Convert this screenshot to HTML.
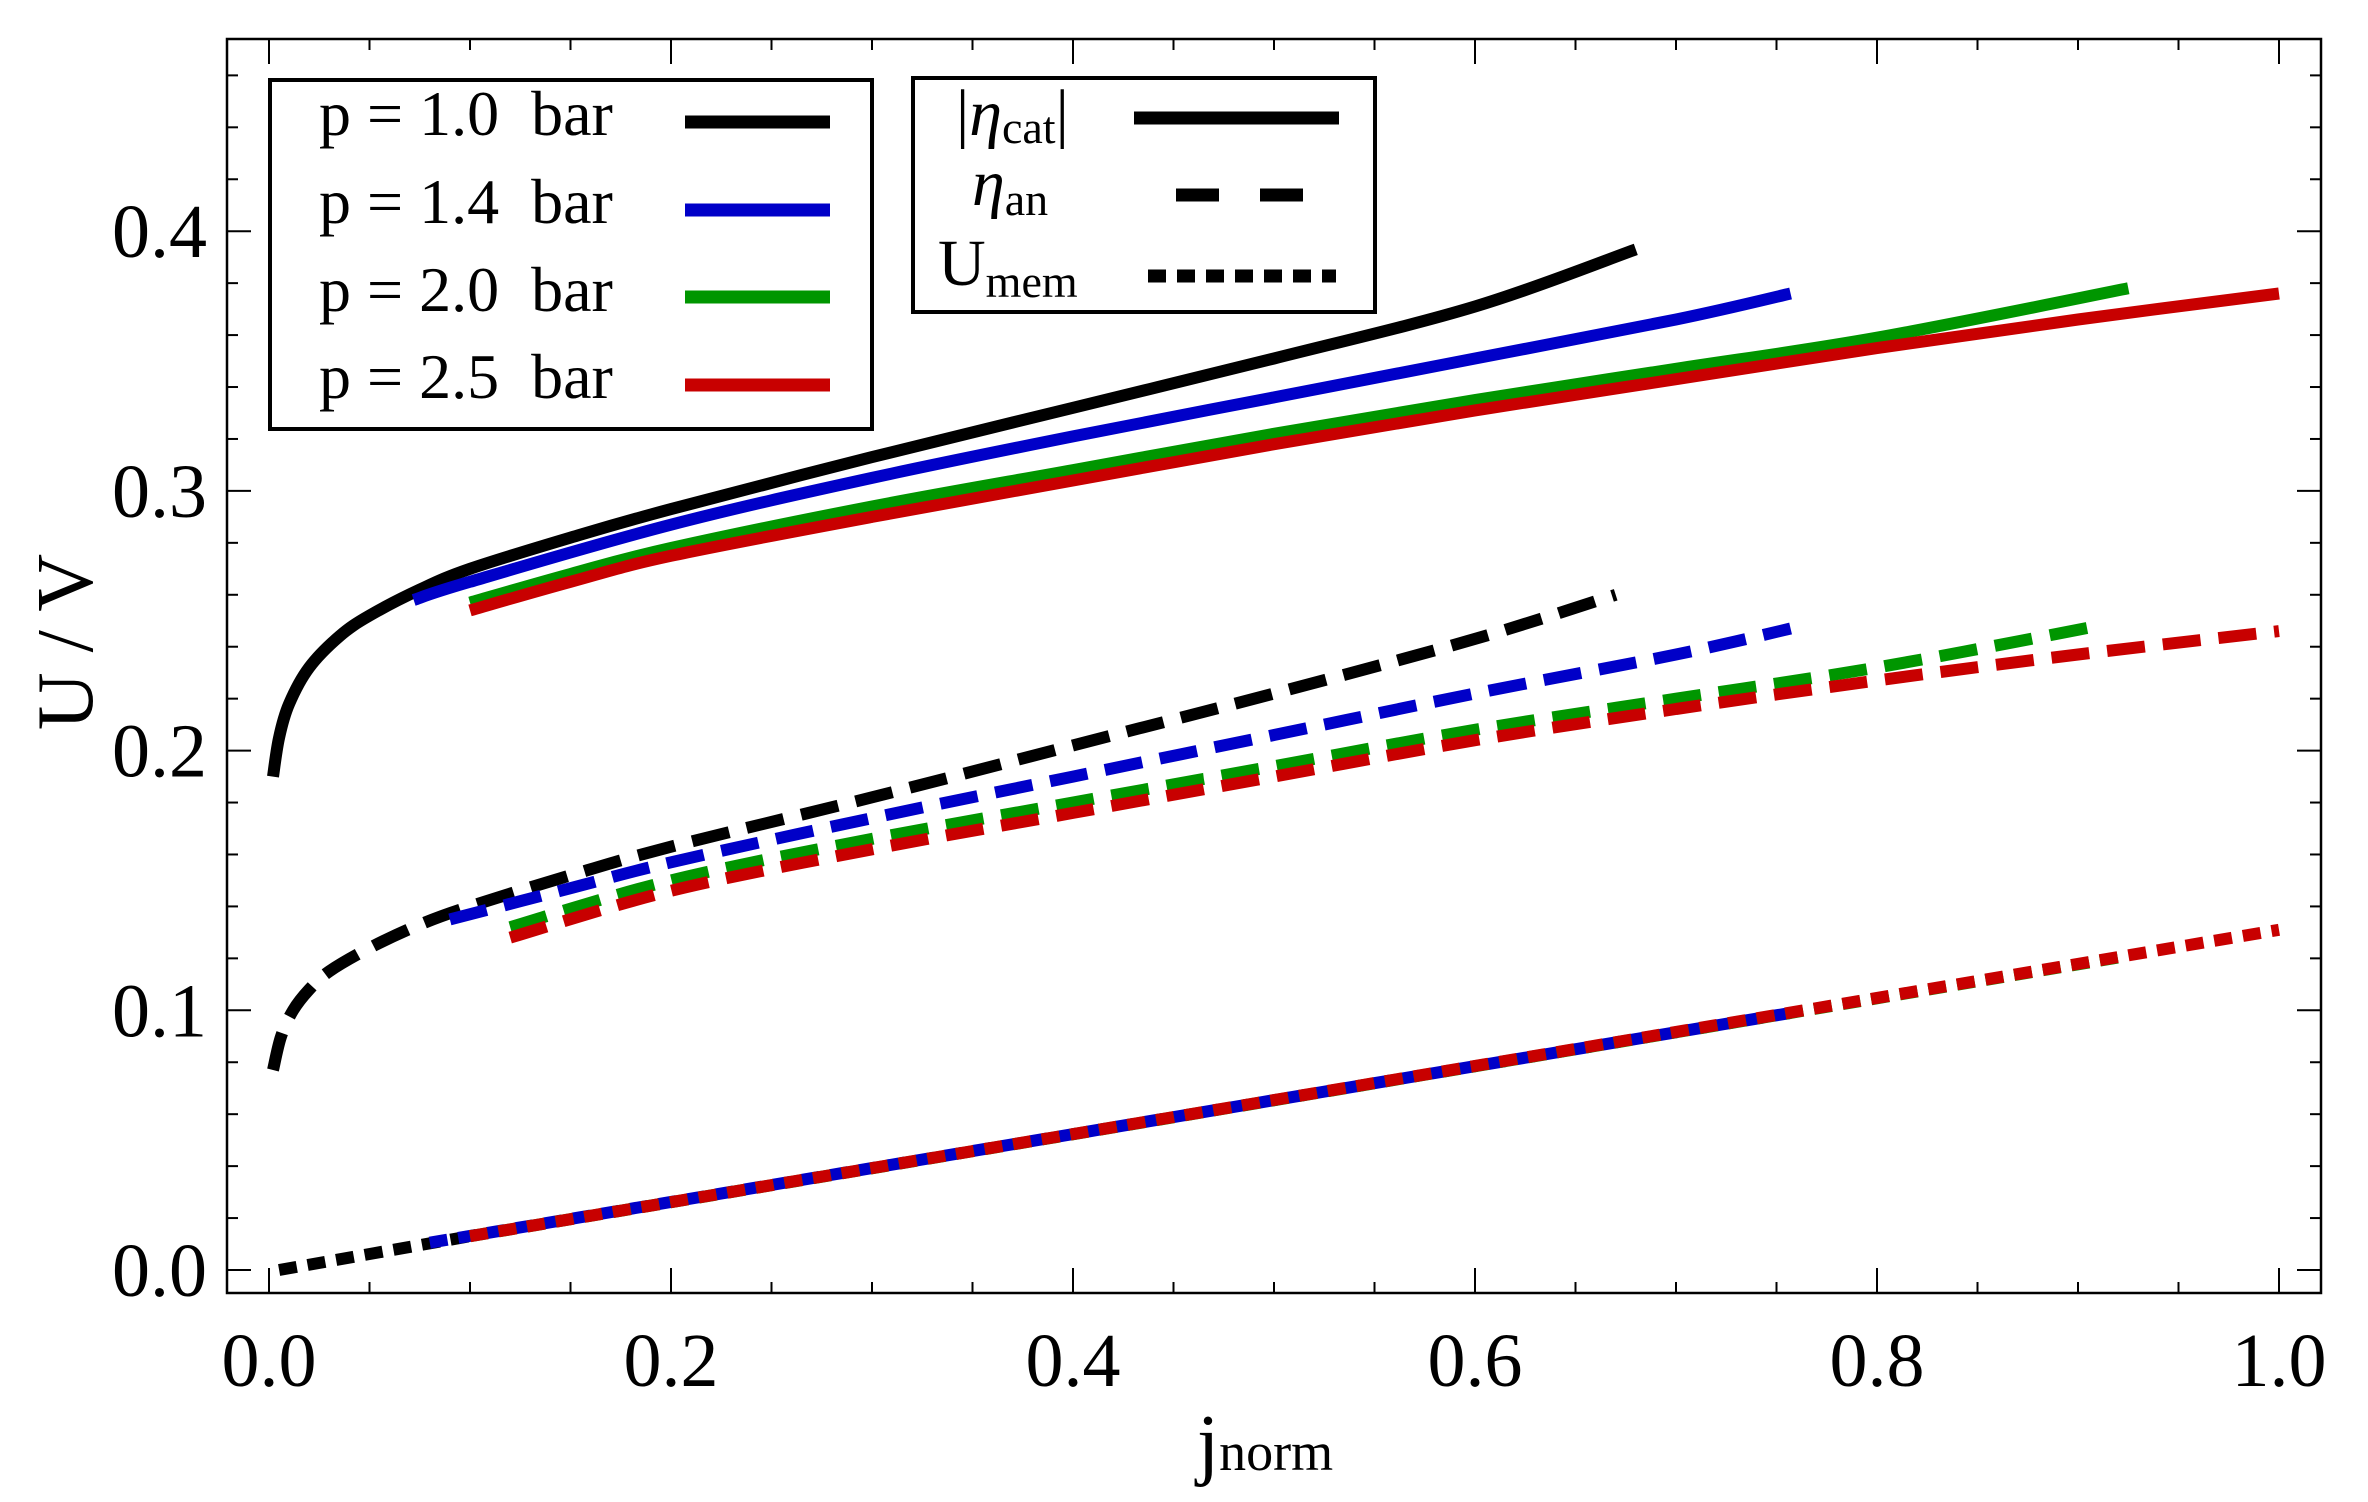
<!DOCTYPE html>
<html><head><meta charset="utf-8"><style>
html,body{margin:0;padding:0;background:#fff;}
svg{display:block;}
text{font-family:"Liberation Serif",serif;fill:#000;}
</style></head><body>
<svg id="chart" width="2368" height="1502" viewBox="0 0 2368 1502" xmlns="http://www.w3.org/2000/svg">
<rect x="0" y="0" width="2368" height="1502" fill="#fff"/>
<g id="marks"></g>
<rect x="227" y="39" width="2094" height="1254" fill="none" stroke="#000" stroke-width="2.5"/>
<g id="ticks"></g>
<text transform="translate(92,642) rotate(-90)" text-anchor="middle" font-size="80">U / V</text>
<text x="1265" y="1470" text-anchor="middle" font-size="80">j<tspan font-size="54">norm</tspan></text>
<g>
<rect x="270" y="80" width="602" height="349" fill="#fff" stroke="#000" stroke-width="4"/>
<text x="319" y="135" font-size="64" xml:space="preserve">p = 1.0  bar</text>
<text x="319" y="223" font-size="64" xml:space="preserve">p = 1.4  bar</text>
<text x="319" y="311" font-size="64" xml:space="preserve">p = 2.0  bar</text>
<text x="319" y="398" font-size="64" xml:space="preserve">p = 2.5  bar</text>
<line x1="685" y1="122" x2="830" y2="122" stroke="#000" stroke-width="13"/>
<line x1="685" y1="210" x2="830" y2="210" stroke="#0000c8" stroke-width="13"/>
<line x1="685" y1="297" x2="830" y2="297" stroke="#009600" stroke-width="13"/>
<line x1="685" y1="385" x2="830" y2="385" stroke="#c80000" stroke-width="13"/>
</g>
<g>
<rect x="913" y="78" width="462" height="234" fill="#fff" stroke="#000" stroke-width="4"/>
<text x="956" y="135" font-size="66">|<tspan font-style="italic">η</tspan><tspan font-size="46" dy="8">cat</tspan><tspan dy="-8">|</tspan></text>
<text x="972" y="205" font-size="66"><tspan font-style="italic">η</tspan><tspan font-size="46" dy="10">an</tspan></text>
<text x="938" y="285" font-size="66">U<tspan font-size="46" dy="12">mem</tspan></text>
<line x1="1134" y1="118" x2="1339" y2="118" stroke="#000" stroke-width="13"/>
<line x1="1176" y1="195" x2="1303" y2="195" stroke="#000" stroke-width="13" stroke-dasharray="43,41"/>
<line x1="1148" y1="276" x2="1336" y2="276" stroke="#000" stroke-width="13" stroke-dasharray="18,11"/>
</g>
</svg>
<script>
const xTicks = [0.0, 0.2, 0.4, 0.6, 0.8, 1.0];
const xTickLabels = ["0.0","0.2","0.4","0.6","0.8","1.0"];
const yTicks = [0.0, 0.1, 0.2, 0.3, 0.4];
const yTickLabels = ["0.0","0.1","0.2","0.3","0.4"];
const colors = ["#000000","#0000c8","#009600","#c80000"];
// cathode overpotential (solid)
const catJ1 = [0.002,0.005,0.01,0.02,0.035,0.05,0.075,0.1,0.15,0.2,0.3,0.4,0.5,0.6,0.68];
const catU1 = [0.19,0.205,0.218,0.232,0.244,0.252,0.262,0.27,0.282,0.293,0.313,0.332,0.351,0.371,0.393];
const catJ2 = [0.072,0.1,0.2,0.3,0.4,0.5,0.6,0.7,0.757];
const catU2 = [0.258,0.265,0.287,0.305,0.321,0.336,0.351,0.366,0.376];
const catJ3 = [0.1,0.15,0.2,0.3,0.4,0.5,0.6,0.7,0.8,0.925];
const catU3 = [0.257,0.268,0.278,0.294,0.308,0.322,0.335,0.347,0.359,0.378];
const catJ4 = [0.1,0.15,0.2,0.3,0.4,0.5,0.6,0.7,0.8,0.9,1.0];
const catU4 = [0.254,0.265,0.275,0.29,0.304,0.318,0.331,0.343,0.355,0.366,0.376];
// anode overpotential (dashed)
const anJ1 = [0.002,0.006,0.012,0.02,0.03,0.05,0.075,0.1,0.15,0.2,0.3,0.4,0.5,0.6,0.67];
const anU1 = [0.077,0.09,0.1,0.108,0.115,0.124,0.133,0.14,0.152,0.163,0.182,0.202,0.222,0.243,0.26];
const anJ2 = [0.09,0.15,0.2,0.3,0.4,0.5,0.6,0.7,0.757];
const anU2 = [0.135,0.147,0.157,0.174,0.19,0.206,0.222,0.237,0.247];
const anJ3 = [0.12,0.2,0.3,0.4,0.5,0.6,0.7,0.8,0.91];
const anU3 = [0.132,0.15,0.166,0.18,0.194,0.208,0.22,0.232,0.248];
const anJ4 = [0.12,0.2,0.3,0.4,0.5,0.6,0.7,0.8,0.9,1.0];
const anU4 = [0.128,0.146,0.162,0.176,0.19,0.204,0.216,0.227,0.237,0.246];
// membrane voltage (dotted)
const memJ1 = [0.005,0.1];
const memU1 = [0.0,0.013];
const memJ2 = [0.08,0.757];
const memU2 = [0.0105,0.099];
const memJ3 = [0.1,0.925];
const memU3 = [0.013,0.121];
const memJ4 = [0.1,1.0];
const memU4 = [0.013,0.131];

const X0=269, X1=2279, Y0=1270, YPER=2597;
function sx(v){return X0+(X1-X0)*v;}
function sy(v){return Y0-YPER*v;}
const NS="http://www.w3.org/2000/svg";
const marks=document.getElementById('marks');
const ticks=document.getElementById('ticks');
function mk(tag,attrs,parent){const e=document.createElementNS(NS,tag);for(const k in attrs)e.setAttribute(k,attrs[k]);parent.appendChild(e);return e;}
function smoothPath(pts){
  let d='M'+pts[0][0].toFixed(1)+','+pts[0][1].toFixed(1);
  for(let i=0;i<pts.length-1;i++){
    const p0=pts[Math.max(0,i-1)],p1=pts[i],p2=pts[i+1],p3=pts[Math.min(pts.length-1,i+2)];
    const c1=[p1[0]+(p2[0]-p0[0])/6,p1[1]+(p2[1]-p0[1])/6];
    const c2=[p2[0]-(p3[0]-p1[0])/6,p2[1]-(p3[1]-p1[1])/6];
    d+=' C'+c1[0].toFixed(1)+','+c1[1].toFixed(1)+' '+c2[0].toFixed(1)+','+c2[1].toFixed(1)+' '+p2[0].toFixed(1)+','+p2[1].toFixed(1);
  }
  return d;
}
function series(js,us,color,dash,name){
  const pts=js.map((j,i)=>[sx(j),sy(us[i])]);
  const p=mk('path',{d:smoothPath(pts),fill:'none',stroke:color,'stroke-width':12,'stroke-dasharray':dash},marks);
  
  
}
const names=["p1","p14","p2","p25"];
const catJ=[catJ1,catJ2,catJ3,catJ4],catU=[catU1,catU2,catU3,catU4];
const anJ=[anJ1,anJ2,anJ3,anJ4],anU=[anU1,anU2,anU3,anU4];
const memJ=[memJ1,memJ2,memJ3,memJ4],memU=[memU1,memU2,memU3,memU4];
for(let i=0;i<4;i++){
  series(memJ[i],memU[i],colors[i],'18,11','u-mem-'+names[i]);
}
for(let i=0;i<4;i++){
  series(anJ[i],anU[i],colors[i],'38,18','eta-an-'+names[i]);
}
for(let i=0;i<4;i++){
  series(catJ[i],catU[i],colors[i],'none','eta-cat-'+names[i]);
}
// ticks
for(let v=0;v<=1.0001;v+=0.05){
  const major=Math.abs(v/0.2-Math.round(v/0.2))<1e-6;
  const L=major?25:11;
  const x=sx(v);
  const t1=mk('line',{x1:x,y1:1293,x2:x,y2:1293-L,stroke:'#000','stroke-width':2},ticks);
  
  
  const t2=mk('line',{x1:x,y1:39,x2:x,y2:39+L,stroke:'#000','stroke-width':2},ticks);
  
  
}
for(let k=0;k<=24;k++){
  const v=k*0.02;
  const y=sy(v);
  if(y<39)continue;
  const major=(k%5===0);
  const L=major?24:11;
  const t1=mk('line',{x1:227,y1:y,x2:227+L,y2:y,stroke:'#000','stroke-width':2},ticks);
  
  
  const t2=mk('line',{x1:2321,y1:y,x2:2321-L,y2:y,stroke:'#000','stroke-width':2},ticks);
  
  
}
xTicks.forEach((v,i)=>{
  const t=mk('text',{x:sx(v),y:1386,'text-anchor':'middle','font-size':76},ticks);
  t.textContent=xTickLabels[i];
  
  
});
yTicks.forEach((v,i)=>{
  const t=mk('text',{x:207,y:sy(v)+26,'text-anchor':'end','font-size':76},ticks);
  t.textContent=yTickLabels[i];
  
  
});
</script>
</body></html>
